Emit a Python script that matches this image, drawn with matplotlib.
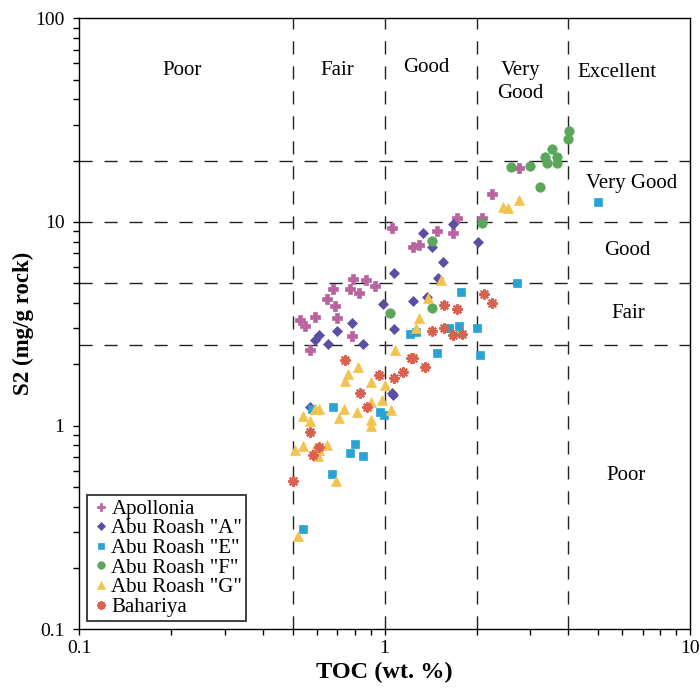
import matplotlib
matplotlib.use("Agg")
import matplotlib.pyplot as plt
from matplotlib.ticker import LogLocator, NullFormatter, FixedLocator, FixedFormatter

plt.rcParams['font.family'] = ['Liberation Serif', 'DejaVu Serif']

# ---- data (TOC wt.%, S2 mg/g rock) ----
apollonia_toc = [2.75, 2.24, 2.09, 1.72, 1.06, 1.48, 1.67, 1.24, 1.30, 0.789, 0.870, 0.931,
                 0.678, 0.771, 0.825, 0.648, 0.689, 0.529, 0.550, 0.592, 0.699, 0.782, 0.571]
apollonia_s2 = [18.4, 13.7, 10.5, 10.4, 9.31, 9.0, 8.8, 7.51, 7.68, 5.23, 5.17, 4.83,
                4.67, 4.67, 4.46, 4.17, 3.85, 3.29, 3.10, 3.40, 3.36, 2.77, 2.36]

ara_toc = [1.34, 1.67, 1.43, 2.02, 1.55, 1.071, 1.50, 1.24, 1.38, 0.989, 1.071, 0.782,
           0.699, 0.610, 0.592, 0.653, 0.850, 1.061, 1.066, 0.571]
ara_s2 = [8.8, 9.74, 7.51, 7.95, 6.34, 5.59, 5.29, 4.07, 4.26, 3.94, 2.97, 3.18,
          2.90, 2.80, 2.62, 2.53, 2.53, 1.45, 1.42, 1.23]

are_toc = [5.00, 2.72, 1.78, 1.63, 1.75, 2.01, 1.21, 1.27, 1.49, 2.05, 0.579, 0.678,
           0.967, 0.996, 0.801, 0.771, 0.850, 0.673, 0.541]
are_s2 = [12.5, 4.99, 4.51, 3.03, 3.10, 3.03, 2.83, 2.87, 2.26, 2.23, 1.20, 1.23,
          1.17, 1.13, 0.816, 0.737, 0.712, 0.580, 0.311]

arf_toc = [4.01, 3.98, 3.54, 3.35, 3.67, 3.40, 3.67, 2.60, 3.00, 3.22, 2.09, 1.43, 1.041, 1.43]
arf_s2 = [27.9, 25.5, 22.8, 20.8, 20.8, 19.4, 19.4, 18.6, 18.8, 14.8, 9.85, 8.04, 3.56, 3.76]

arg_toc = [2.44, 2.54, 2.75, 1.53, 1.39, 1.30, 1.27, 1.08, 0.819, 0.759, 0.742, 0.903,
           1.003, 0.903, 0.982, 1.051, 0.737, 0.813, 0.710, 0.903, 0.903, 0.610, 0.592,
           0.541, 0.571, 0.509, 0.541, 0.592, 0.610, 0.606, 0.648, 0.694, 0.522]
arg_s2 = [11.9, 11.7, 12.8, 5.17, 4.21, 3.36, 3.00, 2.36, 1.95, 1.80, 1.65, 1.63,
          1.59, 1.30, 1.33, 1.19, 1.21, 1.16, 1.09, 1.07, 1.00, 1.20, 1.21,
          1.12, 1.05, 0.762, 0.797, 0.779, 0.762, 0.712, 0.806, 0.536, 0.288]

bah_toc = [2.12, 2.25, 1.56, 1.72, 1.43, 1.56, 1.68, 1.79, 0.742, 1.22, 1.24, 1.36,
           0.960, 1.071, 1.15, 0.831, 0.877, 0.571, 0.610, 0.583, 0.501]
bah_s2 = [4.41, 3.98, 3.89, 3.72, 2.90, 3.03, 2.80, 2.83, 2.11, 2.16, 2.14, 1.95,
          1.78, 1.72, 1.84, 1.44, 1.24, 0.934, 0.788, 0.720, 0.536]

toc_bounds = [0.5, 1, 2, 4]
s2_bounds = [2.5, 5, 10, 20]
x_ticks = [0.1, 1, 10]
x_ticklabels = ['0.1', '1', '10']
y_ticks = [0.1, 1, 10, 100]
y_ticklabels = ['0.1', '1', '10', '100']

fig = plt.figure(figsize=(7, 7), dpi=100)
ax = fig.add_axes([0.1129, 0.101, 0.8729, 0.8729])
ax.set_xscale('log')
ax.set_yscale('log')
ax.set_xlim(0.1, 10)
ax.set_ylim(0.1, 100)

dash = dict(color='#222222', lw=1.0, ls=(0, (9.5, 8.5)), zorder=1)
for xb in toc_bounds:
    ax.axvline(xb, **dash)
for yb in s2_bounds:
    ax.axhline(yb, **dash)

ax.plot(apollonia_toc, apollonia_s2, ls='none', marker='P', ms=7, color='#b8649f',
        mec='#b8649f', mew=0.5, label='Apollonia', zorder=3)
ax.plot(ara_toc, ara_s2, ls='none', marker='D', ms=5.5, color='#5a4fa2',
        mec='#5a4fa2', mew=0.5, label='Abu Roash "A"', zorder=3)
ax.plot(are_toc, are_s2, ls='none', marker='s', ms=6.2, color='#29a3d4',
        mec='#29a3d4', mew=0.5, label='Abu Roash "E"', zorder=3)
ax.plot(arf_toc, arf_s2, ls='none', marker='o', ms=6.8, color='#5aa65a',
        mec='#5aa65a', mew=0.5, label='Abu Roash "F"', zorder=3)
ax.plot(arg_toc, arg_s2, ls='none', marker='^', ms=7.2, color='#f2c44f',
        mec='#f2c44f', mew=0.5, label='Abu Roash "G"', zorder=3)
ax.plot(bah_toc, bah_s2, ls='none', marker=(8, 2, 0), ms=7.5, color='#d9614f',
        mec='#d9614f', mew=1.5, label='Bahariya', zorder=3)

fs = 15
ax.text(0.217, 55.7, 'Poor', ha='center', va='center', fontsize=fs)
ax.text(0.699, 55.7, 'Fair', ha='center', va='center', fontsize=fs)
ax.text(1.367, 57.0, 'Good', ha='center', va='center', fontsize=fs)
ax.text(2.78, 48.7, 'Very\nGood', ha='center', va='center', fontsize=fs, linespacing=1.3)
ax.text(5.77, 53.9, 'Excellent', ha='center', va='center', fontsize=fs)
ax.text(6.46, 15.5, 'Very Good', ha='center', va='center', fontsize=fs)
ax.text(6.24, 7.26, 'Good', ha='center', va='center', fontsize=fs)
ax.text(6.29, 3.56, 'Fair', ha='center', va='center', fontsize=fs)
ax.text(6.17, 0.568, 'Poor', ha='center', va='center', fontsize=fs)

ax.xaxis.set_major_locator(FixedLocator(x_ticks))
ax.xaxis.set_major_formatter(FixedFormatter(x_ticklabels))
ax.yaxis.set_major_locator(FixedLocator(y_ticks))
ax.yaxis.set_major_formatter(FixedFormatter(y_ticklabels))
ax.xaxis.set_minor_locator(LogLocator(base=10, subs=range(2, 10)))
ax.yaxis.set_minor_locator(LogLocator(base=10, subs=range(2, 10)))
ax.xaxis.set_minor_formatter(NullFormatter())
ax.yaxis.set_minor_formatter(NullFormatter())
ax.tick_params(which='both', direction='out', top=False, right=False, labelsize=14,
               length=4.5, width=1)
ax.tick_params(axis='y', which='major', pad=6)
ax.tick_params(axis='x', which='major', pad=3)
for sp in ax.spines.values():
    sp.set_linewidth(1.0)

ax.set_xlabel('TOC (wt. %)', fontsize=17.5, fontweight='bold', labelpad=4)
ax.set_ylabel('S2 (mg/g rock)', fontsize=16.5, fontweight='bold', labelpad=1)

leg = ax.legend(loc='lower left', fontsize=15, frameon=True, fancybox=False,
                edgecolor='black', borderpad=0.2, handletextpad=0.05, handlelength=0.9,
                labelspacing=0.0, borderaxespad=0.4, markerscale=0.8)
leg.get_frame().set_linewidth(1.3)

fig.savefig('out.png', dpi=100)
